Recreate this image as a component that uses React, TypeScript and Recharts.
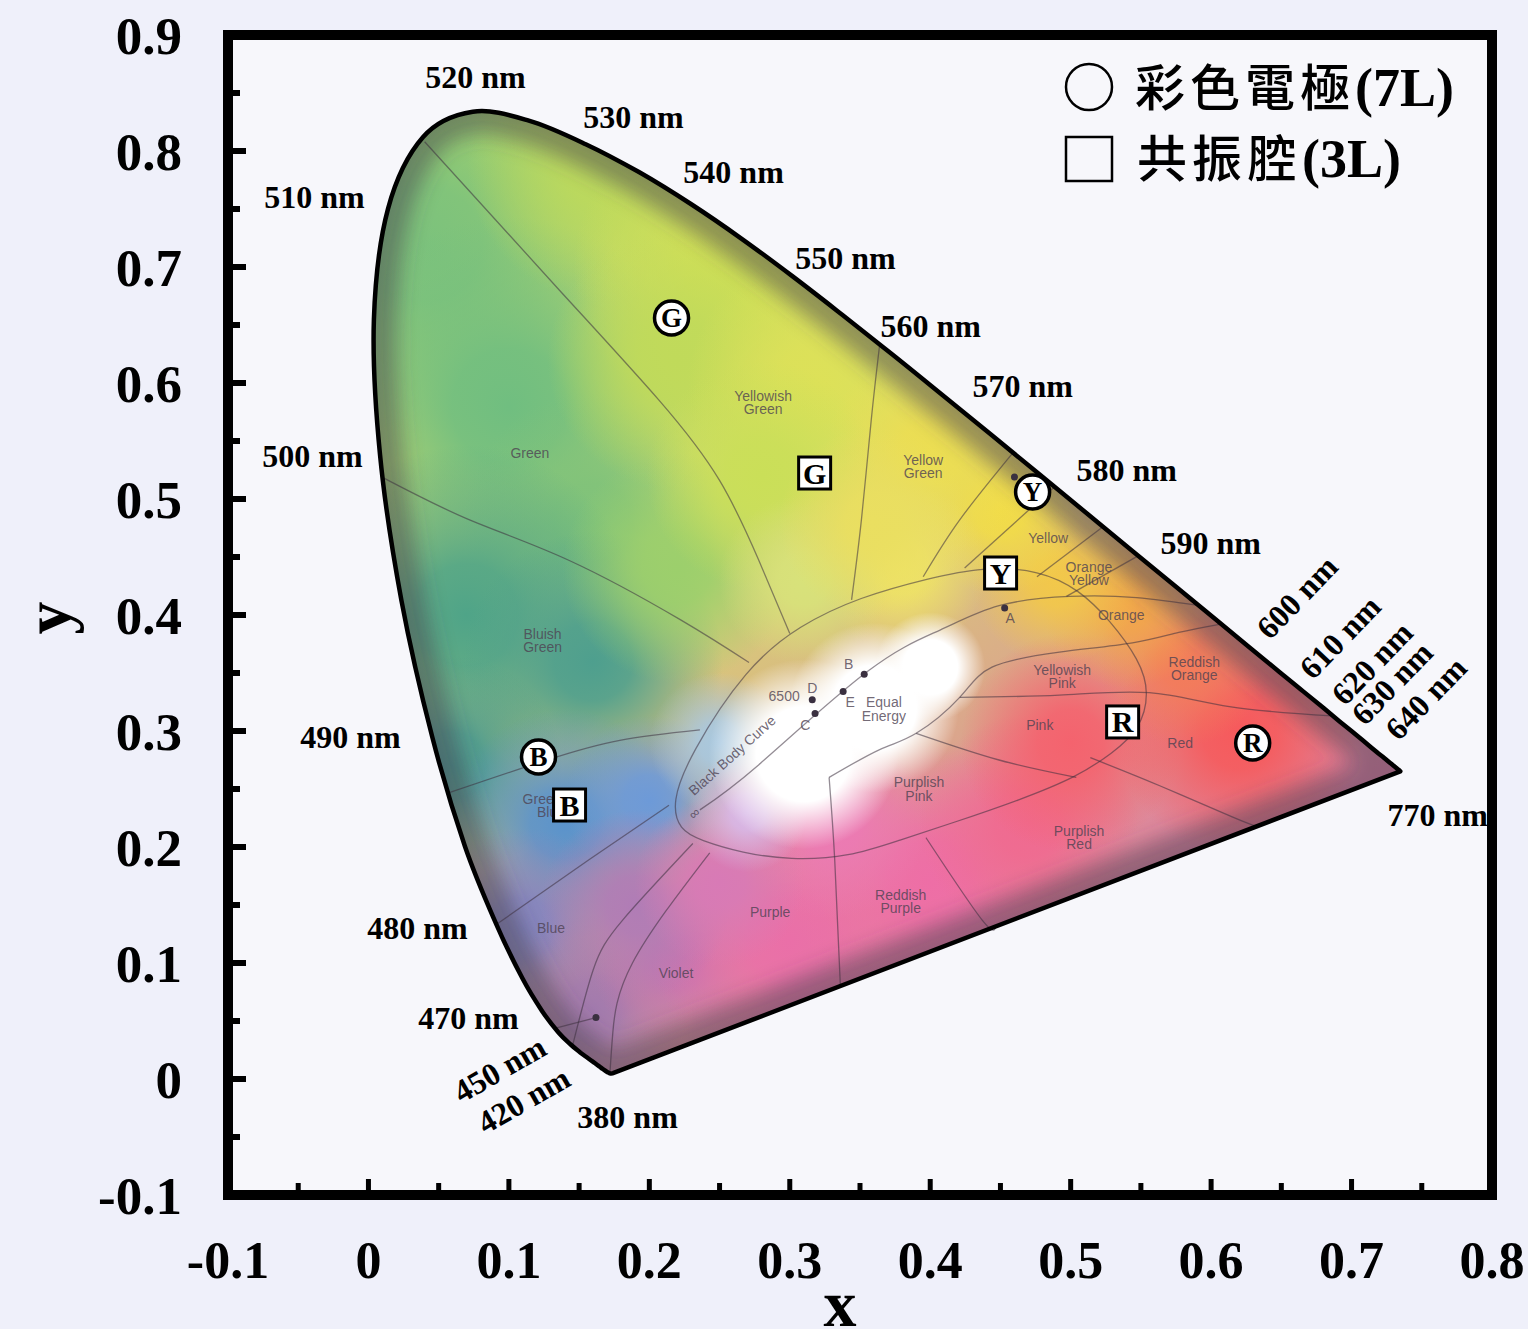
import React from 'react';
import { ScatterChart, Scatter, XAxis, YAxis, CartesianGrid, ReferenceArea } from 'recharts';

const W = 1528;
const H = 1329;
const SERIF = "'Liberation Serif', 'Times New Roman', serif";
const SANS = "'Liberation Sans', Arial, sans-serif";
const CJK = "'Noto Sans CJK TC', 'Noto Sans CJK SC', sans-serif";

// CIE 1931 spectral locus: [wavelength nm, x, y]
const LOCUS: [number, number, number][] = [
  [380, 0.1741, 0.005], [385, 0.174, 0.005], [390, 0.1738, 0.0049], [395, 0.1736, 0.0049],
  [400, 0.1733, 0.0048], [405, 0.173, 0.0048], [410, 0.1726, 0.0048], [415, 0.1721, 0.0048],
  [420, 0.1714, 0.0051], [425, 0.1703, 0.0058], [430, 0.1689, 0.0069], [435, 0.1669, 0.0086],
  [440, 0.1644, 0.0109], [445, 0.1611, 0.0138], [450, 0.1566, 0.0177], [455, 0.151, 0.0227],
  [460, 0.144, 0.0297], [465, 0.1355, 0.0399], [470, 0.1241, 0.0578], [475, 0.1096, 0.0868],
  [480, 0.0913, 0.1327], [485, 0.0687, 0.2007], [490, 0.0454, 0.295], [495, 0.0235, 0.4127],
  [500, 0.0082, 0.5384], [505, 0.0039, 0.6548], [510, 0.0139, 0.7502], [515, 0.0389, 0.812],
  [520, 0.0743, 0.8338], [525, 0.1142, 0.8262], [530, 0.1547, 0.8059], [535, 0.1929, 0.7816],
  [540, 0.2296, 0.7543], [545, 0.2658, 0.7243], [550, 0.3016, 0.6923], [555, 0.3373, 0.6589],
  [560, 0.3731, 0.6245], [565, 0.4087, 0.5896], [570, 0.4441, 0.5547], [575, 0.4788, 0.5202],
  [580, 0.5125, 0.4866], [585, 0.5448, 0.4544], [590, 0.5752, 0.4242], [595, 0.6029, 0.3965],
  [600, 0.627, 0.3725], [605, 0.6482, 0.3514], [610, 0.6658, 0.334], [615, 0.6801, 0.3197],
  [620, 0.6915, 0.3083], [625, 0.7006, 0.2993], [630, 0.7079, 0.292], [635, 0.714, 0.2859],
  [640, 0.719, 0.2809], [645, 0.723, 0.277], [650, 0.726, 0.274], [655, 0.7283, 0.2717],
  [660, 0.73, 0.27], [665, 0.7311, 0.2689], [670, 0.732, 0.268], [675, 0.7327, 0.2673],
  [680, 0.7334, 0.2666], [690, 0.7344, 0.2656], [700, 0.7347, 0.2653],
];

const X_TICKS = [-0.1, -0.05, 0, 0.05, 0.1, 0.15, 0.2, 0.25, 0.3, 0.35, 0.4, 0.45, 0.5, 0.55, 0.6, 0.65, 0.7, 0.75, 0.8];
const Y_TICKS = [-0.1, -0.05, 0, 0.05, 0.1, 0.15, 0.2, 0.25, 0.3, 0.35, 0.4, 0.45, 0.5, 0.55, 0.6, 0.65, 0.7, 0.75, 0.8, 0.85, 0.9];

const SERIES_7L = '彩色電極(7L)';
const SERIES_3L = '共振腔(3L)';

const ELECTRODE_7L = [
  { tag: 'G', x: 0.2158, y: 0.656 },
  { tag: 'Y', x: 0.4729, y: 0.506 },
  { tag: 'B', x: 0.1211, y: 0.2776 },
  { tag: 'R', x: 0.6296, y: 0.2897 },
];

const CAVITY_3L = [
  { tag: 'G', x: 0.3177, y: 0.5224 },
  { tag: 'Y', x: 0.4501, y: 0.4362 },
  { tag: 'B', x: 0.1432, y: 0.2362 },
  { tag: 'R', x: 0.537, y: 0.3078 },
];

const WAVE_LABELS = [
  { text: '380 nm', x: 0.1845, y: -0.0328 },
  { text: '420 nm', x: 0.1104, y: -0.0181 },
  { text: '450 nm', x: 0.0933, y: 0.0086 },
  { text: '470 nm', x: 0.0712, y: 0.0526 },
  { text: '480 nm', x: 0.0349, y: 0.1302 },
  { text: '490 nm', x: -0.0128, y: 0.2948 },
  { text: '500 nm', x: -0.0399, y: 0.537 },
  { text: '510 nm', x: -0.0385, y: 0.7603 },
  { text: '520 nm', x: 0.0762, y: 0.8638 },
  { text: '530 nm', x: 0.1887, y: 0.8293 },
  { text: '540 nm', x: 0.26, y: 0.782 },
  { text: '550 nm', x: 0.3397, y: 0.7078 },
  { text: '560 nm', x: 0.4003, y: 0.6491 },
  { text: '570 nm', x: 0.4658, y: 0.5974 },
  { text: '580 nm', x: 0.5399, y: 0.525 },
  { text: '590 nm', x: 0.5997, y: 0.462 },
  { text: '600 nm', x: 0.661, y: 0.4155 },
  { text: '610 nm', x: 0.6916, y: 0.381 },
  { text: '620 nm', x: 0.7144, y: 0.3586 },
  { text: '630 nm', x: 0.7286, y: 0.3414 },
  { text: '640 nm', x: 0.7528, y: 0.3284 },
  { text: '770 nm', x: 0.7614, y: 0.2276 },
];

const WAVE_ANGLES: Record<string, number> = {
  '420 nm': -30, '450 nm': -30,
  '600 nm': -46, '610 nm': -46, '620 nm': -46, '630 nm': -46, '640 nm': -46,
};

// colour-region boundaries inside the locus
const REGION_LINES: number[][][] = [
  [[0.04, 0.808], [0.136, 0.68], [0.207, 0.585], [0.25, 0.516], [0.278, 0.447], [0.3, 0.384]],
  [[0.011, 0.518], [0.072, 0.482], [0.143, 0.447], [0.222, 0.396], [0.271, 0.359]],
  [[0.058, 0.247], [0.127, 0.275], [0.179, 0.292], [0.236, 0.301]],
  [[0.092, 0.134], [0.157, 0.189], [0.214, 0.236]],
  [[0.145, 0.027], [0.16, 0.094], [0.181, 0.137], [0.231, 0.203]],
  [[0.172, 0.006], [0.174, 0.04], [0.188, 0.1], [0.243, 0.195]],
  [[0.364, 0.633], [0.358, 0.568], [0.351, 0.482], [0.344, 0.413]],
  [[0.459, 0.54], [0.421, 0.482], [0.395, 0.433]],
  [[0.488, 0.51], [0.4245, 0.4405]],
  [[0.523, 0.476], [0.476, 0.433]],
  [[0.548, 0.451], [0.497, 0.416]],
  [[0.328, 0.26], [0.364, 0.284], [0.39, 0.298], [0.421, 0.329], [0.444, 0.355], [0.492, 0.368], [0.544, 0.376], [0.577, 0.385], [0.606, 0.392]],
  [[0.421, 0.329], [0.492, 0.331], [0.556, 0.333], [0.613, 0.321], [0.686, 0.313]],
  [[0.39, 0.298], [0.449, 0.275], [0.504, 0.26]],
  [[0.328, 0.26], [0.332, 0.189], [0.336, 0.081]],
  [[0.514, 0.277], [0.563, 0.253], [0.615, 0.226], [0.632, 0.218]],
  [[0.397, 0.208], [0.437, 0.137], [0.447, 0.132]],
  [[0.134, 0.044], [0.162, 0.053]],
];

const WHITE_BOUNDARY = [
  [0.2158, 0.2379], [0.2286, 0.2793], [0.2692, 0.3552], [0.307, 0.3914], [0.3497, 0.4155],
  [0.3996, 0.4319], [0.4373, 0.4414], [0.4779, 0.4388], [0.5064, 0.4216], [0.5278, 0.3957],
  [0.5491, 0.3612], [0.5563, 0.3328], [0.5491, 0.3009], [0.5299, 0.281], [0.5043, 0.2603],
  [0.4637, 0.2405], [0.4159, 0.2207], [0.3782, 0.206], [0.3426, 0.1914], [0.2999, 0.1888],
  [0.2664, 0.1948], [0.2358, 0.206], [0.2215, 0.2147],
];

const BLACK_BODY = [
  [0.236, 0.232], [0.278, 0.271], [0.355, 0.351], [0.407, 0.387], [0.449, 0.408],
  [0.499, 0.416], [0.547, 0.415], [0.592, 0.408],
];

const REGION_NAMES = [
  { text: 'Yellowish\nGreen', x: 0.281, y: 0.583 },
  { text: 'Green', x: 0.115, y: 0.54 },
  { text: 'Yellow\nGreen', x: 0.395, y: 0.528 },
  { text: 'Yellow', x: 0.484, y: 0.466 },
  { text: 'Orange\nYellow', x: 0.513, y: 0.436 },
  { text: 'Orange', x: 0.536, y: 0.4 },
  { text: 'Bluish\nGreen', x: 0.124, y: 0.378 },
  { text: 'Reddish\nOrange', x: 0.588, y: 0.354 },
  { text: 'Yellowish\nPink', x: 0.494, y: 0.347 },
  { text: 'Pink', x: 0.478, y: 0.305 },
  { text: 'Red', x: 0.578, y: 0.29 },
  { text: 'Purplish\nPink', x: 0.392, y: 0.25 },
  { text: 'Purplish\nRed', x: 0.506, y: 0.208 },
  { text: 'Reddish\nPurple', x: 0.379, y: 0.153 },
  { text: 'Purple', x: 0.286, y: 0.144 },
  { text: 'Violet', x: 0.219, y: 0.091 },
  { text: 'Blue', x: 0.13, y: 0.13 },
  { text: 'Greenish\nBlue', x: 0.13, y: 0.236 },
  { text: '6500', x: 0.296, y: 0.33 },
  { text: 'D', x: 0.316, y: 0.337 },
  { text: 'C', x: 0.311, y: 0.305 },
  { text: 'B', x: 0.342, y: 0.358 },
  { text: 'E', x: 0.343, y: 0.325 },
  { text: 'Equal\nEnergy', x: 0.367, y: 0.319 },
  { text: 'A', x: 0.457, y: 0.397 },
  { text: 'Black Body Curve', x: 0.259, y: 0.279 },
  { text: '∞', x: 0.232, y: 0.229 },
];

const TEXT_ANGLES: Record<string, number> = { 'Black Body Curve': -42, '∞': -42 };

const ILLUMINANTS = [
  { x: 0.316, y: 0.327 }, { x: 0.318, y: 0.315 }, { x: 0.338, y: 0.334 },
  { x: 0.353, y: 0.349 }, { x: 0.453, y: 0.406 }, { x: 0.46, y: 0.519 }, { x: 0.162, y: 0.053 },
];

// anchors of the soft colour field (white ones last so they sit on top)
const BLOB_POINTS = [
  { x: 0.04, y: 0.72 }, { x: 0.1, y: 0.58 }, { x: 0.16, y: 0.48 }, { x: 0.17, y: 0.79 },
  { x: 0.26, y: 0.7 }, { x: 0.22, y: 0.62 }, { x: 0.32, y: 0.6 }, { x: 0.07, y: 0.4 },
  { x: 0.16, y: 0.36 }, { x: 0.06, y: 0.27 }, { x: 0.14, y: 0.22 }, { x: 0.2, y: 0.24 },
  { x: 0.11, y: 0.13 }, { x: 0.16, y: 0.06 }, { x: 0.22, y: 0.1 }, { x: 0.3, y: 0.12 },
  { x: 0.4, y: 0.17 }, { x: 0.33, y: 0.22 }, { x: 0.47, y: 0.22 }, { x: 0.5, y: 0.29 },
  { x: 0.62, y: 0.3 }, { x: 0.58, y: 0.36 }, { x: 0.54, y: 0.41 }, { x: 0.49, y: 0.43 },
  { x: 0.45, y: 0.49 }, { x: 0.4, y: 0.54 }, { x: 0.38, y: 0.44 },
  { x: 0.22, y: 0.44 }, { x: 0.28, y: 0.52 }, { x: 0.31, y: 0.43 }, { x: 0.36, y: 0.48 },
  { x: 0.19, y: 0.15 }, { x: 0.25, y: 0.17 },
  { x: 0.25, y: 0.29 }, { x: 0.27, y: 0.23 },
  { x: 0.31, y: 0.28 }, { x: 0.36, y: 0.32 }, { x: 0.4, y: 0.355 },
];

const BLOB_STYLE: [string, number][] = [
  ['#7cc27c', 190], ['#70be80', 190], ['#7fc27a', 130], ['#bcd95c', 140],
  ['#d2e055', 160], ['#c0da5a', 130], ['#dde158', 130], ['#4fa488', 170],
  ['#4e9f8e', 130], ['#4a9a90', 110], ['#5a93cc', 115], ['#6d9ad8', 85],
  ['#8484c0', 100], ['#a27aae', 95], ['#c276b0', 85], ['#ea6fa8', 140],
  ['#ee6ea6', 140], ['#ec7ab4', 95], ['#f06a90', 110], ['#f4636e', 110],
  ['#f65a5c', 125], ['#f37c5a', 85], ['#f2a64a', 85], ['#f2c84a', 85],
  ['#f2dc48', 85], ['#ecde52', 105], ['#f0e468', 85],
  ['#9ccf6c', 115], ['#cadf58', 115], ['#d8e27a', 85], ['#eadf60', 95],
  ['#b07cb6', 95], ['#d87ab6', 85],
  ['#a8c8e0', 70], ['#d8b8e8', 60],
  ['#ffffff', 95], ['#ffffff', 85], ['#ffffff', 55],
];

const LINE_COLOR = 'rgba(60,48,62,0.55)';

const locusData = LOCUS.map(([nm, x, y]) => ({ nm, x, y }));
const blobData = BLOB_POINTS.map((b, i) => ({ ...b, i }));
const toPts = (arr: number[][]) => arr.map(([x, y]) => ({ x, y }));

function isMajor(v: number) {
  return Math.abs(Math.round(v * 20)) % 2 === 0;
}

function fmt(v: number) {
  return String(Number(v.toFixed(2)));
}

// smooth Catmull-Rom path along the spectral points, closed by the straight purple line
function locusPath(pts: { x: number; y: number }[]) {
  const n = pts.length;
  const f = (v: number) => v.toFixed(1);
  let d = `M${f(pts[0].x)},${f(pts[0].y)}`;
  for (let i = 0; i < n - 1; i++) {
    const p0 = pts[Math.max(i - 1, 0)];
    const p1 = pts[i];
    const p2 = pts[i + 1];
    const p3 = pts[Math.min(i + 2, n - 1)];
    const c1x = p1.x + (p2.x - p0.x) / 6;
    const c1y = p1.y + (p2.y - p0.y) / 6;
    const c2x = p2.x - (p3.x - p1.x) / 6;
    const c2y = p2.y - (p3.y - p1.y) / 6;
    d += `C${f(c1x)},${f(c1y)} ${f(c2x)},${f(c2y)} ${f(p2.x)},${f(p2.y)}`;
  }
  return d + 'Z';
}

const Empty = () => <g />;

function XTick(props: any) {
  const { x, y, payload } = props;
  const major = isMajor(payload.value);
  return (
    <g>
      <line x1={x} x2={x} y1={y} y2={y - (major ? 16 : 12)} stroke="#000" strokeWidth={5} />
      {major && (
        <text x={x} y={y + 83} textAnchor="middle" fontFamily={SERIF} fontWeight="bold" fontSize={52} fill="#000">
          {fmt(payload.value)}
        </text>
      )}
    </g>
  );
}

function YTick(props: any) {
  const { x, y, payload } = props;
  const major = isMajor(payload.value);
  return (
    <g>
      <line x1={x} x2={x + (major ? 18 : 12)} y1={y} y2={y} stroke="#000" strokeWidth={6} />
      {major && (
        <text x={x - 46} y={y} dy="0.35em" textAnchor="end" fontFamily={SERIF} fontWeight="bold" fontSize={53} fill="#000">
          {fmt(payload.value)}
        </text>
      )}
    </g>
  );
}

// filled locus; also registers the clip used by the colour field
function LocusFill(props: any) {
  const d = locusPath(props.points);
  return (
    <g>
      <defs>
        <clipPath id="locusClip">
          <path d={d} />
        </clipPath>
        <linearGradient id="locusBase" x1="0" y1="0" x2="0.6" y2="1">
          <stop offset="0" stopColor="#a8d468" />
          <stop offset="0.45" stopColor="#d6dc70" />
          <stop offset="1" stopColor="#e070a8" />
        </linearGradient>
      </defs>
      <path d={d} fill="url(#locusBase)" />
    </g>
  );
}

function LocusEdge(props: any) {
  const d = locusPath(props.points);
  return (
    <g clipPath="url(#locusClip)">
      <defs>
        <filter id="edgeBlur" x="-10%" y="-10%" width="120%" height="120%">
          <feGaussianBlur stdDeviation="10" />
        </filter>
      </defs>
      <path d={d} fill="none" stroke="#463e4c" strokeOpacity={0.48} strokeWidth={46} strokeLinejoin="round" filter="url(#edgeBlur)" />
    </g>
  );
}

function LocusOutline(props: any) {
  return <path d={locusPath(props.points)} fill="none" stroke="#000" strokeWidth={4.5} strokeLinejoin="round" />;
}

function Blob(props: any) {
  const i = props.payload.i;
  const [color, r] = BLOB_STYLE[i];
  const white = color === '#ffffff';
  return (
    <g clipPath="url(#locusClip)">
      <defs>
        <radialGradient id={`blob${i}`}>
          <stop offset="0" stopColor={color} stopOpacity={1} />
          <stop offset={white ? 0.5 : 0.3} stopColor={color} stopOpacity={white ? 1 : 0.9} />
          <stop offset="1" stopColor={color} stopOpacity={0} />
        </radialGradient>
      </defs>
      <circle cx={props.cx} cy={props.cy} r={r} fill={`url(#blob${i})`} />
    </g>
  );
}

function WaveLabel(props: any) {
  const { cx, cy, payload } = props;
  const angle = WAVE_ANGLES[payload.text] ?? 0;
  return (
    <text
      x={cx}
      y={cy}
      dy="0.35em"
      textAnchor="middle"
      transform={angle ? `rotate(${angle} ${cx} ${cy})` : undefined}
      fontFamily={SERIF}
      fontWeight="bold"
      fontSize={32}
      fill="#000"
    >
      {payload.text}
    </text>
  );
}

function RegionText(props: any) {
  const { cx, cy, payload } = props;
  const lines = String(payload.text).split('\n');
  const angle = TEXT_ANGLES[payload.text] ?? 0;
  return (
    <text
      x={cx}
      y={cy}
      textAnchor="middle"
      transform={angle ? `rotate(${angle} ${cx} ${cy})` : undefined}
      fontFamily={SANS}
      fontSize={14}
      fill="#4e4252"
      fillOpacity={0.8}
    >
      {lines.map((l, k) => (
        <tspan key={k} x={cx} dy={k === 0 ? `${0.35 - (lines.length - 1) * 0.47}em` : '0.95em'}>
          {l}
        </tspan>
      ))}
    </text>
  );
}

const Dot = (props: any) => <circle cx={props.cx} cy={props.cy} r={3.5} fill="#3a3040" />;

function CircleMark(props: any) {
  const { cx, cy, payload } = props;
  return (
    <g>
      <circle cx={cx} cy={cy} r={17} fill="#fff" stroke="#000" strokeWidth={3.5} />
      <text x={cx} y={cy} dy="0.35em" textAnchor="middle" fontFamily={SERIF} fontWeight="bold" fontSize={27} fill="#000">
        {payload.tag}
      </text>
    </g>
  );
}

function SquareMark(props: any) {
  const { cx, cy, payload } = props;
  return (
    <g>
      <rect x={cx - 16} y={cy - 16} width={32} height={32} fill="#fff" stroke="#000" strokeWidth={3} />
      <text x={cx} y={cy} dy="0.35em" textAnchor="middle" fontFamily={SERIF} fontWeight="bold" fontSize={30} fill="#000">
        {payload.tag}
      </text>
    </g>
  );
}

export default function App() {
  return (
    <div style={{ position: 'absolute', left: 0, top: 0, width: W, height: H, background: '#eff0fa', overflow: 'hidden' }}>
      <ScatterChart width={W} height={H} margin={{ top: 35, right: 36, bottom: 34, left: 28 }}>
        <CartesianGrid horizontal={false} vertical={false} fill="#f7f7fb" />
        <XAxis
          type="number"
          dataKey="x"
          domain={[-0.1, 0.8]}
          ticks={X_TICKS}
          interval={0}
          tick={(p: any) => <XTick {...p} />}
          tickLine={false}
          axisLine={false}
          tickSize={0}
          tickMargin={0}
          height={100}
        />
        <YAxis
          type="number"
          dataKey="y"
          domain={[-0.1, 0.9]}
          ticks={Y_TICKS}
          interval={0}
          tick={(p: any) => <YTick {...p} />}
          tickLine={false}
          axisLine={false}
          tickSize={0}
          tickMargin={0}
          width={200}
        />
        <ReferenceArea x1={-0.1} x2={0.8} y1={-0.1} y2={0.9} fill="none" stroke="#000" strokeWidth={10} ifOverflow="visible" />

        <Scatter data={locusData} line={LocusFill} lineType="joint" shape={Empty} isAnimationActive={false} />
        <Scatter data={blobData} shape={Blob} isAnimationActive={false} />
        <Scatter data={locusData} line={LocusEdge} lineType="joint" shape={Empty} isAnimationActive={false} />

        {REGION_LINES.map((seg, k) => (
          <Scatter
            key={`region-${k}`}
            data={toPts(seg)}
            line={{ stroke: LINE_COLOR, strokeWidth: 1.3, fill: 'none' }}
            lineType="joint"
            lineJointType="natural"
            shape={Empty}
            isAnimationActive={false}
          />
        ))}
        <Scatter
          data={toPts(WHITE_BOUNDARY)}
          line={{ stroke: LINE_COLOR, strokeWidth: 1.3, fill: 'none' }}
          lineType="joint"
          lineJointType="basisClosed"
          shape={Empty}
          isAnimationActive={false}
        />
        <Scatter
          data={toPts(BLACK_BODY)}
          line={{ stroke: LINE_COLOR, strokeWidth: 1.3, fill: 'none' }}
          lineType="joint"
          lineJointType="natural"
          shape={Empty}
          isAnimationActive={false}
        />
        <Scatter data={REGION_NAMES} shape={RegionText} isAnimationActive={false} />
        <Scatter data={ILLUMINANTS} shape={Dot} isAnimationActive={false} />

        <Scatter data={locusData} line={LocusOutline} lineType="joint" shape={Empty} isAnimationActive={false} />
        <Scatter data={WAVE_LABELS} shape={WaveLabel} isAnimationActive={false} />
        <Scatter name={SERIES_3L} data={CAVITY_3L} shape={SquareMark} isAnimationActive={false} />
        <Scatter name={SERIES_7L} data={ELECTRODE_7L} shape={CircleMark} isAnimationActive={false} />
      </ScatterChart>

      <svg width={W} height={H} style={{ position: 'absolute', left: 0, top: 0, pointerEvents: 'none' }}>
        <circle cx={1089} cy={87} r={23} fill="none" stroke="#000" strokeWidth={2.5} />
        <text x={1135} y={106} fill="#000">
          <tspan fontFamily={CJK} fontWeight={500} fontSize={50} letterSpacing={5}>彩色電極</tspan>
          <tspan fontFamily={SERIF} fontWeight="bold" fontSize={54}>(7L)</tspan>
        </text>
        <rect x={1066} y={137} width={46} height={44} fill="none" stroke="#000" strokeWidth={2.5} />
        <text x={1137} y={177} fill="#000">
          <tspan fontFamily={CJK} fontWeight={500} fontSize={50} letterSpacing={5}>共振腔</tspan>
          <tspan fontFamily={SERIF} fontWeight="bold" fontSize={54}>(3L)</tspan>
        </text>
        <text x={840} y={1326} textAnchor="middle" fontFamily={SERIF} fontWeight="bold" fontSize={66} fill="#000">
          x
        </text>
        <text transform="translate(70,618) rotate(-90)" textAnchor="middle" fontFamily={SERIF} fontWeight="bold" fontSize={66} fill="#000">
          y
        </text>
      </svg>
    </div>
  );
}
